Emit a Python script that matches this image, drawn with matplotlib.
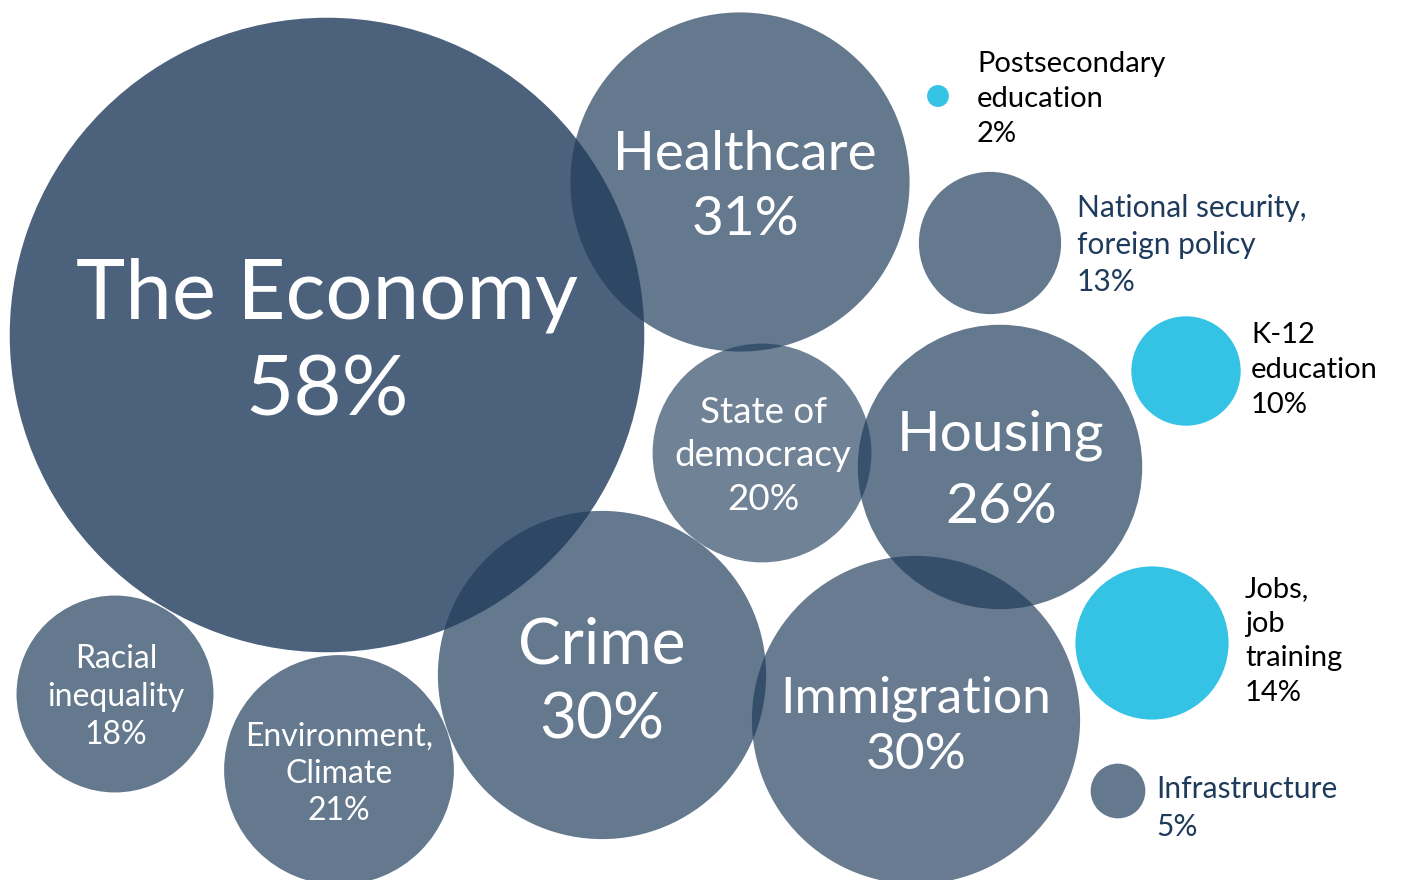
import matplotlib.pyplot as plt
from matplotlib.patches import Circle

# share of respondents naming each issue (%)
topics = ["The Economy", "Healthcare", "Postsecondary\neducation", "National security,\nforeign policy",
          "K-12\neducation", "State of\ndemocracy", "Housing", "Jobs,\njob\ntraining",
          "Racial\ninequality", "Environment,\nClimate", "Crime", "Immigration", "Infrastructure"]
shares = [58, 31, 2, 13, 10, 20, 26, 14, 18, 21, 30, 30, 5]
education_jobs = [False, False, True, False, True, False, False, True, False, False, False, False, False]

# bubble centres (pixels) and label placement
centres = [(327, 335), (740, 182), (938, 96), (990, 243), (1186, 371), (762, 453), (1000, 467),
           (1152, 643), (115, 694), (339, 770), (602, 675), (916, 720), (1118, 791)]
label_inside = [True, True, False, False, False, True, True, False, True, True, True, True, False]
label_pos = [(327, 344), (745, 187), (977, 99), (1077, 245), (1251, 370), (763, 456), (1001, 471),
             (1245, 641), (116, 697), (339, 774), (602, 683), (916, 727), (1156, 808)]
label_size = [60, 39.5, 21, 21.5, 21, 26.5, 41, 21, 23, 23, 46, 37, 21.5]
label_gap = [1.36, 1.38, 1.42, 1.4, 1.42, 1.39, 1.51, 1.42, 1.33, 1.31, 1.35, 1.28, 1.4]
alphas = [0.80, 0.69, 1, 0.69, 1, 0.64, 0.69, 1, 0.69, 0.69, 0.69, 0.67, 0.69]

navy = "#1f3b5b"
cyan = "#35c3e5"
px_per_point = 5.47

plt.rcParams['font.family'] = ['Lato', 'DejaVu Sans']
fig = plt.figure(figsize=(14.06, 8.8), dpi=100)
ax = fig.add_axes([0, 0, 1, 1])
ax.set_xlim(0, 1406)
ax.set_ylim(880, 0)
ax.set_aspect('equal')
ax.axis('off')

for i in range(len(topics)):
    if education_jobs[i]:
        c = Circle(centres[i], shares[i] * px_per_point, facecolor=cyan, edgecolor='none')
    else:
        c = Circle(centres[i], shares[i] * px_per_point, facecolor=navy, alpha=alphas[i], edgecolor='none')
    ax.add_patch(c)

for i in range(len(topics)):
    txt = topics[i] + "\n" + str(shares[i]) + "%"
    x, y = label_pos[i]
    if label_inside[i]:
        ax.text(x, y, txt, ha='center', va='center', color='white', fontsize=label_size[i],
                linespacing=label_gap[i])
    else:
        col = 'black' if education_jobs[i] else navy
        ax.text(x, y, txt, ha='left', va='center', color=col, fontsize=label_size[i],
                linespacing=label_gap[i])

fig.savefig("out.png", dpi=100)
